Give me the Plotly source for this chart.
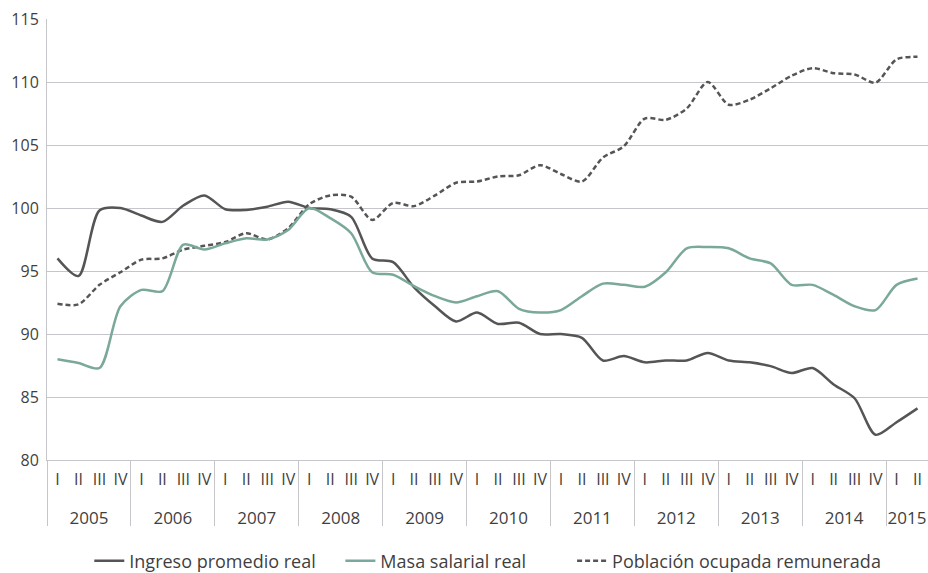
import plotly.graph_objects as go

# Quarterly index series, 2005-I to 2015-II
years = [str(y) for y in range(2005, 2016)]
quarters = ["I", "II", "III", "IV"]
quarter_labels = quarters * 10 + ["I", "II"]
n = len(quarter_labels)
idx = list(range(n))

ingreso = [96.0, 94.6, 99.8, 100.0, 99.4, 98.9, 100.2, 101.0, 99.9, 99.85,
           100.1, 100.5, 100.0, 99.9, 99.3, 96.0, 95.7, 93.7, 92.2, 91.0,
           91.7, 90.8, 90.9, 90.0, 90.0, 89.7, 87.9, 88.25, 87.75, 87.9,
           87.9, 88.5, 87.9, 87.75, 87.45, 86.9, 87.3, 86.0, 84.9, 82.0,
           83.0, 84.1]

masa = [88.0, 87.7, 87.3, 92.2, 93.5, 93.4, 97.1, 96.7, 97.2, 97.6,
        97.5, 98.25, 100.0, 99.2, 98.0, 94.9, 94.7, 93.8, 93.0, 92.5,
        93.0, 93.4, 92.0, 91.7, 91.9, 93.0, 94.0, 93.9, 93.75, 94.9,
        96.8, 96.9, 96.8, 96.0, 95.6, 93.9, 93.9, 93.1, 92.2, 91.9,
        93.9, 94.4]

poblacion = [92.4, 92.35, 93.9, 94.9, 95.9, 96.0, 96.7, 97.0, 97.3, 98.0,
             97.5, 98.4, 100.3, 101.0, 100.9, 99.05, 100.4, 100.15, 101.0, 102.0,
             102.1, 102.5, 102.6, 103.4, 102.7, 102.1, 104.0, 104.9, 107.1, 107.0,
             107.9, 110.0, 108.2, 108.6, 109.5, 110.5, 111.1, 110.7, 110.6, 109.95,
             111.8, 112.0]

# Year groups: centre of each group for its label, group edges for the dividers
year_starts = list(range(0, n, 4))
year_ends = [min(s + 4, n) for s in year_starts]
year_centers = [(s + e - 1) / 2 for s, e in zip(year_starts, year_ends)]
year_edges = [s - 0.5 for s in year_starts] + [n - 0.5]

DARK = "#555555"
TEAL = "#7aa89a"
GRID = "#c6c6ca"
TEXT = "#3f3f3f"
FONT = "Open Sans"
x_range = [-0.5, n - 0.5]

fig = go.Figure()
fig.add_trace(go.Scatter(
    x=idx, y=ingreso, name="Ingreso promedio real", mode="lines", legend="legend",
    line=dict(color=DARK, width=2.5, shape="spline", smoothing=0.8),
))
# the wage-bill series sits on the year axis (same range as the quarter axis)
fig.add_trace(go.Scatter(
    x=idx, y=masa, name="Masa salarial real", mode="lines", legend="legend2",
    xaxis="x2",
    line=dict(color=TEAL, width=2.5, shape="spline", smoothing=0.8),
))
fig.add_trace(go.Scatter(
    x=idx, y=poblacion, name="Población ocupada remunerada", mode="lines", legend="legend3",
    line=dict(color=DARK, width=2.5, shape="spline", smoothing=0.8, dash="5px,3px"),
))

legend_style = dict(
    orientation="h", xanchor="left", yref="container", y=0.021, yanchor="middle",
    font=dict(family=FONT, size=18, color=TEXT), bgcolor="rgba(0,0,0,0)",
)

fig.update_layout(
    width=928, height=573,
    margin=dict(l=47, r=0, t=19, b=113),
    paper_bgcolor="white", plot_bgcolor="white",
    font=dict(family=FONT, size=16, color=TEXT),
    showlegend=True,
    legend=dict(x=0.048, **legend_style),
    legend2=dict(x=0.333, **legend_style),
    legend3=dict(x=0.596, **legend_style),
    xaxis=dict(
        range=x_range,
        tickmode="array", tickvals=idx, ticktext=quarter_labels,
        tickangle=0, automargin=False,
        showgrid=False, zeroline=False,
        showline=True, linecolor=GRID, linewidth=1,
        ticks="", ticklabelstandoff=5,
        tickfont=dict(family=FONT, size=16, color=TEXT),
    ),
    xaxis2=dict(
        overlaying="x", anchor="y", side="bottom",
        range=x_range,
        tickmode="array", tickvals=year_centers, ticktext=years,
        tickangle=0, automargin=False,
        showgrid=False, zeroline=False, showline=False,
        ticks="", ticklabelstandoff=46,
        tickfont=dict(family=FONT, size=17, color=TEXT),
        minor=dict(tickmode="array", tickvals=year_edges, ticks="outside",
                   ticklen=65, tickwidth=1, tickcolor=GRID),
    ),
    yaxis=dict(
        range=[80, 115], dtick=5,
        automargin=False,
        showgrid=True, gridcolor=GRID, gridwidth=1,
        showline=True, linecolor=GRID, linewidth=1,
        zeroline=False, ticks="",
        tickfont=dict(family=FONT, size=16, color=TEXT),
        ticklabelstandoff=4,
    ),
)

fig.write_html("out.html")
